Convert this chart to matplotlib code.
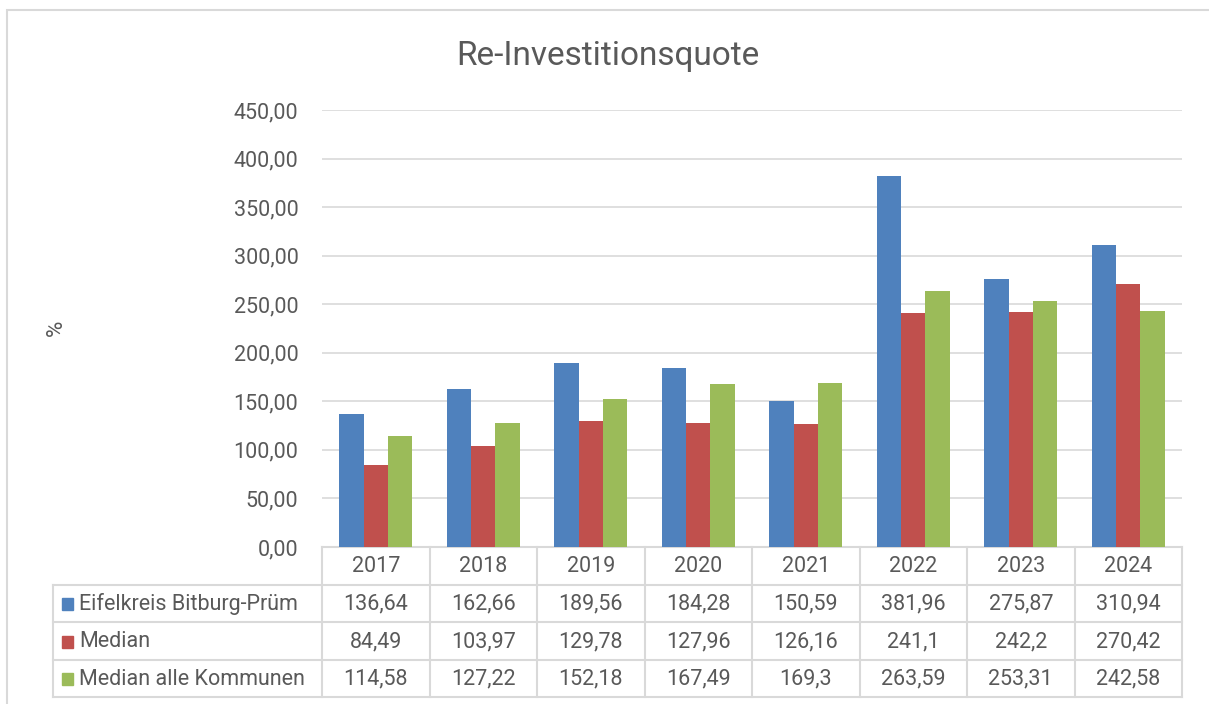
import matplotlib.pyplot as plt
from matplotlib.patches import Rectangle
from matplotlib.transforms import blended_transform_factory
import numpy as np

years = ["2017", "2018", "2019", "2020", "2021", "2022", "2023", "2024"]
eifelkreis = [136.64, 162.66, 189.56, 184.28, 150.59, 381.96, 275.87, 310.94]
median = [84.49, 103.97, 129.78, 127.96, 126.16, 241.1, 242.2, 270.42]
median_alle = [114.58, 127.22, 152.18, 167.49, 169.3, 263.59, 253.31, 242.58]
series_names = ["Eifelkreis Bitburg-Prüm", "Median", "Median alle Kommunen"]
colors = ["#4F81BD", "#C0504D", "#9BBB59"]

plt.rcParams['font.family'] = ['Roboto', 'DejaVu Sans']
txt = "#595959"
grid = "#D9D9D9"
fs = 15.5

W, H = 1209, 704
fig = plt.figure(figsize=(W / 100, H / 100), dpi=100)
# outer chart border
fig.patches.append(Rectangle((7 / W, -0.1), 1.2, 1 - 10 / H + 0.1, transform=fig.transFigure,
                             fill=False, edgecolor=grid, linewidth=1.5))

ax = fig.add_axes([322 / W, 1 - 547 / H, 860 / W, 437 / H])
x = np.arange(len(years))
bw = 0.225
for i, vals in enumerate([eifelkreis, median, median_alle]):
    ax.bar(x + (i - 1) * bw, vals, bw, color=colors[i], zorder=3)

ax.set_xlim(-0.5, len(years) - 0.5)
ax.set_ylim(0, 450)
ax.set_yticks(np.arange(0, 451, 50))
ax.set_yticklabels([f"{v:.2f}".replace(".", ",") for v in np.arange(0, 451, 50)])
ax.yaxis.grid(True, color=grid, linewidth=1.2, zorder=0)
ax.tick_params(axis='y', length=0, pad=17, labelsize=fs, labelcolor=txt)
ax.set_xticks([])
for s in ax.spines.values():
    s.set_visible(False)

fig.text(608 / W, 1 - 56 / H, "Re-Investitionsquote", fontsize=24, color=txt, ha='center', va='center')
fig.text(56 / W, 1 - 328 / H, "%", rotation=90, fontsize=16, color=txt, ha='center', va='center')

# data table under the plot
row_h = 37.5 / 437  # in axes fraction
tr = blended_transform_factory(ax.transData, ax.transAxes)
lw = 1.5
left_x = (53 - 322) / 860  # axes fraction
n_rows = 4
bottom = -n_rows * row_h
# vertical lines
for k in range(len(years) + 1):
    ax.plot([k - 0.5, k - 0.5], [0, bottom], transform=tr, color=grid, lw=lw, clip_on=False)
ax.plot([left_x, left_x], [-row_h, bottom], transform=ax.transAxes, color=grid, lw=lw, clip_on=False)
# horizontal lines
ax.plot([0, 1], [0, 0], transform=ax.transAxes, color=grid, lw=lw, clip_on=False)
for r in range(1, n_rows + 1):
    ax.plot([left_x, 1], [-r * row_h, -r * row_h], transform=ax.transAxes, color=grid, lw=lw, clip_on=False)

for j, y in enumerate(years):
    ax.text(j, -0.53 * row_h, y, transform=tr, ha='center', va='center', fontsize=fs, color=txt)

for i, vals in enumerate([eifelkreis, median, median_alle]):
    yc = -(i + 1.53) * row_h
    for j, v in enumerate(vals):
        ax.text(j, yc, f"{v:g}".replace(".", ","), transform=tr, ha='center', va='center',
                fontsize=fs, color=txt)
    ax.add_patch(Rectangle(((62 - 322) / 860, yc - 0.5 * 12 / 437), 11 / 860, 12 / 437,
                           transform=ax.transAxes, color=colors[i], clip_on=False))
    ax.text((79 - 322) / 860, yc, series_names[i], transform=ax.transAxes, ha='left', va='center',
            fontsize=fs, color=txt)

fig.savefig("out.png", dpi=100)
